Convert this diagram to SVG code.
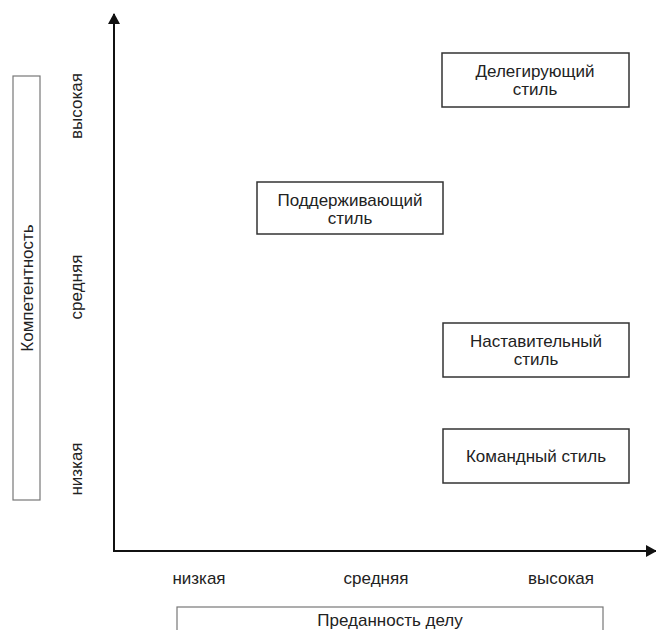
<svg xmlns="http://www.w3.org/2000/svg" width="656" height="630" viewBox="0 0 656 630">
<style>
text{font-family:"Liberation Sans",Arial,sans-serif;font-size:17px;fill:#222;text-anchor:middle}
.box{fill:#fff;stroke:#333;stroke-width:1.5}
.frame{fill:#fff;stroke:#777;stroke-width:1.2}
.axis{stroke:#111;stroke-width:2;fill:none}
</style>
<defs>
<marker id="arr" markerWidth="11" markerHeight="12" refX="10" refY="6" orient="auto" markerUnits="userSpaceOnUse">
<path d="M0,0 L11,6 L0,12 Z" fill="#111"/>
</marker>
</defs>
<rect width="656" height="630" fill="#fff"/>
<g id="connectors">
<line class="axis" x1="114" y1="551" x2="114" y2="14" marker-end="url(#arr)"/>
<line class="axis" x1="113" y1="551" x2="656" y2="551" marker-end="url(#arr)"/>
</g>
<g id="y-title">
<rect class="frame" x="13" y="76" width="27" height="424"/>
<text transform="translate(33,288) rotate(-90)">Компетентность</text>
</g>
<g id="y-labels">
<text transform="translate(82,106) rotate(-90)">высокая</text>
<text transform="translate(82,287) rotate(-90)">средняя</text>
<text transform="translate(82,469) rotate(-90)">низкая</text>
</g>
<g id="x-labels">
<text x="199" y="584">низкая</text>
<text x="376" y="584">средняя</text>
<text x="561" y="584">высокая</text>
</g>
<g id="x-title">
<rect class="frame" x="177" y="607" width="426" height="30"/>
<text x="390" y="626">Преданность делу</text>
</g>
<g id="delegating">
<rect class="box" x="442" y="53" width="187" height="54"/>
<text x="535" y="77">Делегирующий</text>
<text x="535" y="95">стиль</text>
</g>
<g id="supporting">
<rect class="box" x="257" y="182" width="186" height="52"/>
<text x="350" y="206">Поддерживающий</text>
<text x="350" y="224">стиль</text>
</g>
<g id="coaching">
<rect class="box" x="443" y="323" width="186" height="54"/>
<text x="536" y="347">Наставительный</text>
<text x="536" y="365">стиль</text>
</g>
<g id="directing">
<rect class="box" x="443" y="429" width="186" height="54"/>
<text x="536" y="462">Командный стиль</text>
</g>
</svg>
